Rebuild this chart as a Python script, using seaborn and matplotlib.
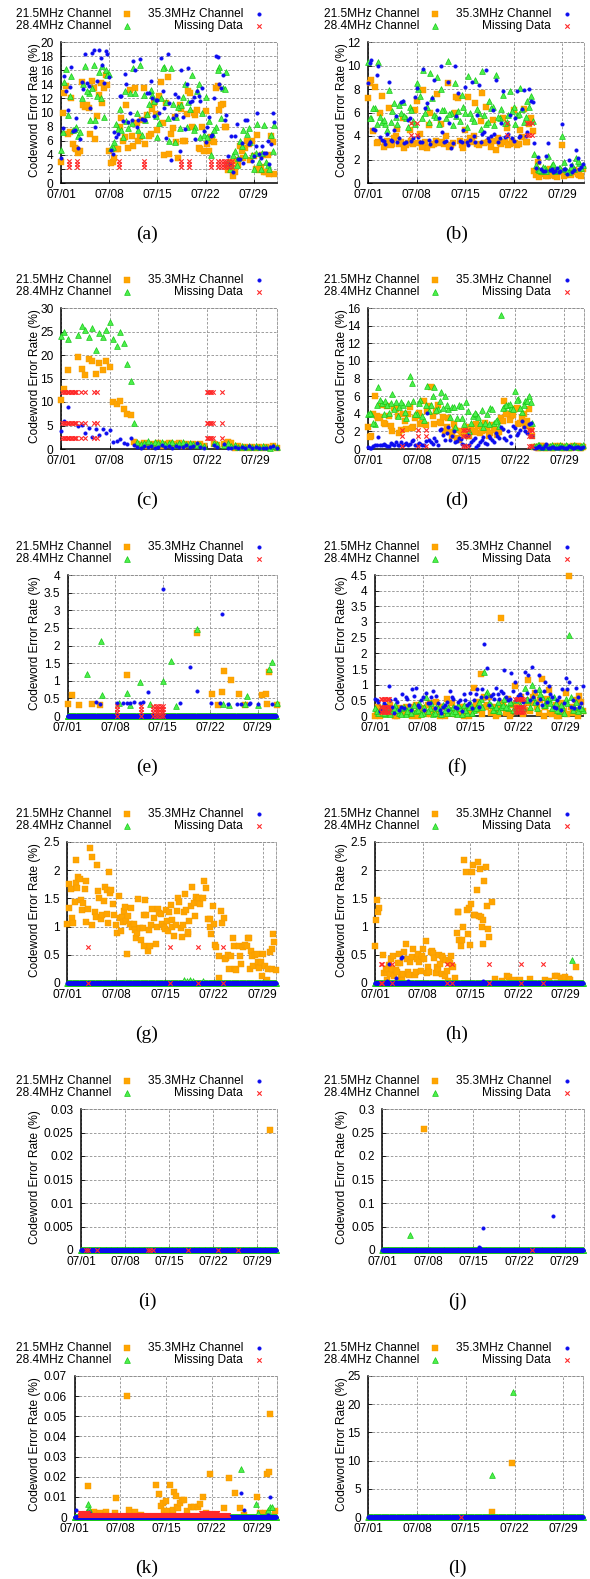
"""Codeword error rate per upstream channel, twelve nodes, July."""

import matplotlib

matplotlib.use("Agg")

import matplotlib.pyplot as plt
import numpy as np
import pandas as pd
import seaborn as sns

NAN = float("nan")

FIG_W_PX = 590
FIG_H_PX = 1579
AXES_H_PX = 141
SAMPLE_STEP = 0.05  # days between polls for drawn zero lines / missing spans

LEGEND_LABELS = {
    "c215": "21.5MHz Channel",
    "c353": "35.3MHz Channel",
    "c284": "28.4MHz Channel",
    "miss": "Missing Data",
}
Y_LABEL = "Codeword Error Rate (%)"
DAY_TICKS = [0, 7, 14, 21, 28]
DAY_TICK_LABELS = ["07/01", "07/08", "07/15", "07/22", "07/29"]

PANEL_TAGS = ["a", "b", "c", "d", "e", "f", "g", "h", "i", "j", "k", "l"]
Y_MAX = [20, 12, 30, 16, 4, 4.5, 2.5, 2.5, 0.03, 0.3, 0.07, 25]
Y_STEP = [2, 2, 5, 2, 0.5, 0.5, 0.5, 0.5, 0.005, 0.05, 0.01, 5]
X_MAX = [31.3, 31.1, 31.0, 30.8, 30.8, 30.6, 30.0, 30.6, 31.1, 30.9, 30.9, 30.9]
ZERO_LINE_PANELS = ["e", "g", "h", "i", "j", "k", "l"]

# ---- samples at 00:00 / 12:00 (lists without suffix) and 06:00 / 18:00 (_Q lists) ----
A_215 = [3.0, 12.8, 7.0, 12.0, 5.0, 4.3, 14.3, 10.8, 10.7, 14.5,
         6.3, 12.5, 11.3, 15.3, 4.6, 3.0, 4.8, 8.0, 5.9, 11.0,
         13.2, 5.2, 8.5, 6.5, 13.5, 9.6, 7.0, 11.3, 7.5, 14.3,
         4.0, 15.0, 7.0, 9.3, 3.5, 10.5, 6.0, 13.0, 8.0, 9.6,
         5.0, 7.9, 10.2, 4.5, 5.9, 13.5, 10.3, 11.2, 7.9, 2.0,
         1.0, 3.3, 5.3, 3.5, 6.0, 3.3, 3.8, 6.8, 2.2, 1.5,
         4.0, 6.7, 1.3]
A_215_Q = [10.0, 13.8, 7.2, 5.5, 4.8, 4.6, 11.0, 11.0, 6.9, 13.5,
           9.5, 14.2, 13.5, 13.9, 2.9, 3.5, 4.8, 9.2, 6.5, 5.0,
           6.7, 13.5, 5.9, 9.0, 5.5, 6.7, 10.5, 9.8, 12.3, 8.5,
           11.3, 4.1, 7.8, 5.8, 11.0, 5.9, 9.8, 12.7, 10.0, 10.3,
           4.8, 4.5, 5.5, 6.5, 5.8, 13.8, 11.0, 8.0, 1.8, 3.0,
           1.5, 2.5, 4.5, 5.0, 5.5, 6.0, 2.0, 1.8, 4.0, 1.5,
           1.3, 5.8]
A_353 = [3.5, 15.2, 10.4, 16.4, 7.5, 5.0, 14.3, 18.3, 13.7, 18.5,
         7.9, 18.9, 16.8, 18.7, 15.0, 4.1, 6.5, 12.3, 8.8, 14.0,
         10.0, 17.3, 8.0, 17.6, 9.0, 12.8, 14.4, 9.5, 11.8, 17.7,
         10.7, 18.3, 3.3, 12.6, 12.2, 16.0, 7.7, 16.3, 11.7, 6.3,
         12.3, 13.5, 5.8, 9.3, 6.8, 18.0, 14.0, 15.3, 9.7, 2.7,
         1.6, 8.4, 3.4, 2.9, 8.9, 5.8, 3.9, 10.0, 3.5, 4.3,
         6.0, 5.6, 8.6]
A_353_Q = [7.8, 13.0, 13.6, 7.4, 9.2, 6.2, 13.3, 14.2, 10.7, 18.9,
           14.5, 17.8, 14.2, 18.3, 4.7, 7.3, 7.0, 12.4, 15.4, 8.7,
           9.0, 16.0, 9.0, 9.1, 9.0, 12.8, 12.0, 11.8, 10.0, 13.0,
           6.4, 11.3, 9.2, 9.7, 4.5, 9.3, 14.1, 11.5, 12.2, 13.0,
           11.7, 7.4, 8.0, 6.6, 12.0, 17.9, 13.5, 9.0, 3.9, 6.7,
           6.7, 3.4, 5.7, 9.0, 5.5, 3.1, 5.2, 4.1, 5.2, 4.3,
           2.7, 9.9]
A_284 = [4.7, 14.3, 9.7, 15.2, 7.6, 6.7, 12.0, 16.6, 12.8, 13.5,
         9.0, 15.8, 16.6, 16.0, 15.5, 5.1, 8.3, 10.5, 6.5, 8.8,
         12.8, 16.3, 10.0, 16.7, 12.5, 9.8, 13.2, 11.6, 6.5, 12.0,
         16.5, 9.2, 16.3, 5.8, 10.8, 11.0, 14.0, 11.5, 15.3, 8.0,
         14.0, 10.0, 12.2, 8.8, 7.0, 8.0, 16.5, 13.5, 15.8, 2.0,
         4.0, 2.5, 6.0, 7.5, 7.0, 5.8, 2.0, 8.3, 2.0, 8.2,
         2.6, 6.8, 8.2]
A_284_Q = [7.2, 16.2, 12.3, 7.5, 8.0, 7.3, 14.0, 13.0, 9.0, 16.8,
           12.3, 12.0, 9.4, 15.3, 5.0, 5.8, 7.7, 7.5, 13.0, 7.8,
           8.5, 12.8, 7.5, 6.8, 9.0, 11.2, 12.5, 9.5, 8.5, 16.3,
           11.5, 6.0, 11.2, 9.3, 7.8, 12.2, 8.0, 10.5, 7.5, 13.0,
           6.5, 6.8, 6.5, 4.0, 7.5, 16.0, 9.2, 13.3, 3.0, 2.5,
           4.5, 3.5, 5.3, 4.0, 7.8, 4.0, 4.2, 3.0, 4.3, 3.0,
           2.0, 4.5]
A_MISS_DAYS = [1.15, 2.35, 8.45, 12.05, 17.4, 18.6, 21.75, 22.85, 23.2, 23.65, 24.0, 24.4, 24.85]
A_MISS_LEVELS = [2.2, 2.65, 3.1]

B_215 = [7.2, 8.8, 8.2, 3.5, 7.4, 3.2, 6.4, 3.3, 4.0, 3.3,
         5.5, 3.2, 4.5, 3.3, 7.0, 4.2, 7.9, 3.0, 6.0, 3.3,
         7.6, 5.0, 3.3, 8.5, 3.2, 6.0, 7.2, 3.2, 4.5, 7.3,
         3.5, 6.8, 3.2, 7.7, 6.5, 3.5, 5.4, 2.8, 3.4, 5.5,
         4.7, 3.3, 6.2, 3.2, 4.5, 6.3, 3.5, 5.5, 1.0, 1.8,
         0.8, 1.1, 0.6, 1.0, 0.6, 0.9, 3.2, 0.7, 0.8, 0.9,
         1.0, 0.7, 1.2]
B_215_Q = [8.5, 4.4, 3.4, 6.0, 3.1, 3.6, 3.2, 3.8, 4.6, 3.5,
           3.0, 3.4, 3.6, 6.2, 3.4, 3.1, 3.5, 4.9, 3.2, 3.6,
           3.4, 3.5, 4.0, 3.1, 3.4, 7.3, 3.6, 3.0, 3.5, 3.8,
           4.0, 3.3, 5.3, 3.4, 3.5, 3.1, 3.6, 3.8, 3.3, 3.5,
           3.2, 3.6, 3.4, 3.3, 3.9, 3.5, 5.0, 4.4, 0.7, 0.5,
           0.9, 0.6, 1.2, 0.7, 0.5, 1.0, 0.6, 0.8, 0.7, 1.1,
           0.8, 0.6]
B_353 = [8.5, 10.5, 4.5, 10.0, 3.7, 3.3, 8.6, 3.6, 5.7, 3.8,
         7.0, 3.5, 5.5, 3.8, 8.1, 3.5, 9.7, 6.8, 3.3, 8.8,
         6.2, 10.0, 3.5, 8.6, 3.0, 10.0, 7.7, 3.5, 8.2, 3.2,
         8.6, 3.5, 8.3, 4.2, 9.6, 3.6, 6.2, 8.8, 3.8, 7.8,
         4.0, 5.8, 3.6, 7.8, 4.0, 7.9, 4.3, 7.0, 3.4, 2.2,
         1.2, 1.0, 3.4, 1.2, 1.0, 0.9, 5.0, 1.2, 2.0, 0.9,
         2.8, 1.2, 1.6]
B_353_Q = [10.2, 4.6, 9.2, 3.9, 3.6, 4.2, 3.7, 4.5, 3.5, 6.9,
           3.4, 5.4, 3.6, 7.3, 3.9, 3.5, 6.4, 3.7, 7.2, 3.6,
           5.5, 4.3, 3.6, 5.1, 3.4, 5.7, 3.6, 4.5, 3.5, 3.7,
           4.0, 5.8, 3.5, 4.3, 3.8, 4.0, 4.2, 3.5, 5.1, 3.9,
           4.2, 3.8, 5.5, 3.9, 6.3, 4.0, 8.0, 6.9, 1.3, 1.8,
           1.0, 2.3, 1.1, 0.9, 1.3, 1.0, 1.2, 0.8, 1.5, 1.1,
           2.1, 1.4]
B_284 = [10.3, 5.5, 6.4, 10.3, 5.2, 5.0, 7.9, 6.1, 5.6, 6.6,
         6.9, 5.5, 6.5, 5.3, 8.5, 7.4, 9.6, 6.5, 9.4, 5.8,
         9.0, 8.0, 6.2, 10.4, 6.0, 8.5, 6.1, 7.5, 6.0, 9.1,
         5.5, 8.8, 6.0, 9.5, 5.0, 7.0, 6.5, 9.2, 5.5, 7.5,
         5.2, 7.8, 6.5, 5.8, 8.1, 5.2, 7.0, 7.4, 2.5, 1.2,
         1.0, 1.3, 2.3, 1.5, 1.0, 1.3, 4.0, 1.2, 0.9, 1.5,
         2.1, 1.7, 1.5]
B_284_Q = [5.5, 6.4, 5.0, 5.6, 5.4, 4.5, 5.2, 6.8, 5.0, 6.0,
           5.7, 4.8, 6.2, 5.0, 8.0, 5.5, 6.0, 5.2, 7.2, 5.6,
           5.0, 6.2, 5.5, 5.9, 4.9, 5.7, 5.3, 6.5, 4.8, 6.0,
           5.3, 6.3, 4.6, 5.8, 5.2, 6.4, 4.9, 5.6, 6.3, 5.1,
           5.8, 6.1, 5.0, 5.9, 6.3, 5.6, 6.5, 5.3, 1.5, 1.1,
           1.4, 1.0, 1.2, 1.6, 1.1, 1.3, 1.8, 1.0, 1.4, 1.2,
           1.9, 1.3]
B_MISS_DAYS = [6.2, 7.05, 20.05, 23.0, 23.3, 23.6]
B_MISS_LEVELS = [4.1, 5.1]

C_215 = [10.5, 12.8, 16.9, NAN, NAN, 19.5, 17.0, 15.8, 19.2, 18.7,
         15.9, 18.3, 16.8, 18.8, 17.5, 10.0, 9.5, 10.2, 8.5, 7.5,
         7.2, 1.5, 1.0, 0.8, 1.2, 0.6, 1.0, 0.8, 1.2, 0.7,
         1.0, 1.3, 0.8, 1.0, 1.2, 0.7, 1.0, 0.9, 1.1, 0.8,
         1.0, 0.6, NAN, NAN, 1.0, 0.8, NAN, 1.0, 1.5, 1.2,
         0.3, 0.6, 0.2, 0.5, 0.3, 0.4, 0.2, 0.5, 0.3, 0.4,
         0.2, 0.6, 0.3]
C_353 = [3.8, 6.0, 9.0, NAN, NAN, 4.8, 5.2, 3.5, 4.5, 2.5,
         4.2, 3.0, 4.3, 3.5, 4.0, 1.5, 1.8, 2.2, 1.3, 1.0,
         2.4, 0.8, 0.5, 0.3, 0.7, 0.4, 0.6, 0.3, 0.5, 0.8,
         0.4, 0.6, 0.3, 0.7, 0.5, 0.4, 0.8, 0.5, 0.6, 1.3,
         0.4, 0.3, NAN, NAN, 0.8, 0.4, NAN, 1.0, 0.3, 0.2,
         0.5, 0.2, 0.4, 0.3, 0.6, 0.2, 0.4, 0.2, 0.3, 0.2,
         0.5, 0.6, 0.3]
C_284 = [24.0, 25.0, 23.5, NAN, NAN, 24.3, 26.2, 25.3, 23.8, 25.7,
         21.1, 24.6, 23.8, 25.3, 27.0, 23.5, 22.0, 24.8, 22.5, 18.0,
         14.5, 5.5, 1.5, 1.0, 1.3, 1.6, 1.0, 1.4, 1.2, 1.5,
         1.0, 1.3, 1.4, 0.9, 1.2, 1.5, 1.0, 1.3, 1.0, 0.8,
         0.9, 0.7, NAN, NAN, 1.3, 1.0, NAN, 0.8, 1.2, 0.6,
         0.8, 0.5, 0.7, 0.4, 0.6, 0.5, 0.7, 0.4, 0.6, 0.5,
         0.3, 0.6, 0.4]
C_MISS_DAYS = [0.2, 0.4, 0.6, 0.8, 1.0, 1.2, 1.4, 1.6, 1.8, 2.0, 2.2, 2.9, 3.5, 4.7, 5.2,
               21.0, 21.2, 21.4, 21.6, 21.8, 23.1]
C_MISS_LEVELS = [2.3, 5.6, 12.2]

D_215 = [2.5, 1.5, 6.0, 3.5, 5.0, 2.8, 3.7, 2.0, 4.5, 1.8,
         4.0, 2.3, 4.8, 2.5, 3.7, 2.8, 5.5, 4.3, 7.0, 2.8,
         5.0, 3.0, 2.0, 3.5, 1.5, 2.2, 1.0, 1.8, 2.5, 1.5,
         2.0, 2.8, 1.8, 2.5, 2.2, 1.8, 2.5, 1.6, 3.5, 5.5,
         4.0, 3.7, 4.5, 2.8, 3.5, 2.6, 4.5, 1.5, 0.2, 0.1,
         0.3, 0.1, 0.2, 0.1, 0.2, 0.3, 0.1, 0.2, 0.1, 0.2,
         0.3, 0.1, 0.3]
D_215_Q = [1.4, 4.0, 3.8, 3.6, 2.9, 4.9, 2.6, 4.6, 3.8, 2.2,
           3.2, 4.0, 2.4, 3.5, 4.1, 3.0, 2.7, 4.9, 3.7, 4.3,
           3.1, 3.6, 2.5, 1.9, 2.8, 1.2, 2.0, 1.7, 1.5, 2.3,
           1.9, 2.6, 2.0, 3.0, 1.5, 2.7, 2.2, 1.9, 3.2, 4.0,
           3.3, 3.9, 4.6, 3.0, 4.0, 3.2, 2.4, 0.2, 0.1, 0.3,
           0.1, 0.2, 0.1, 0.3, 0.2, 0.1, 0.2, 0.1, 0.3, 0.2,
           0.1, 0.2]
D_353 = [0.2, 0.1, 0.5, 1.4, 0.4, 0.5, 0.3, 0.6, 0.8, 0.5,
         0.4, 0.7, 0.6, 1.0, 0.5, 0.6, 0.4, 4.1, 0.8, 1.2,
         0.5, 2.3, 1.0, 2.5, 1.5, 0.8, 1.2, 0.6, 1.5, 0.5,
         1.0, 0.2, 0.8, 1.4, 0.6, 1.2, 0.8, 1.5, 2.5, 1.3,
         2.0, 0.7, 2.4, 1.8, 3.2, 2.0, 2.8, 1.5, 0.1, 0.3,
         0.1, 0.6, 0.1, 0.2, 0.1, 0.2, 0.1, 0.1, 0.2, 0.1,
         0.2, 0.1, 0.4]
D_353_Q = [0.1, 0.3, 0.5, 0.4, 0.6, 0.3, 0.7, 0.5, 0.4, 0.8,
           0.6, 0.5, 0.9, 0.4, 0.7, 0.5, 0.9, 1.0, 0.6, 0.9,
           2.2, 1.6, 1.8, 1.0, 2.0, 0.9, 1.1, 0.4, 1.6, 0.8,
           1.3, 0.5, 1.0, 0.7, 1.5, 1.0, 1.8, 1.2, 2.3, 1.0,
           1.5, 2.6, 1.6, 2.2, 2.5, 1.8, 3.0, 0.1, 0.2, 0.1,
           0.3, 0.1, 0.2, 0.1, 0.1, 0.2, 0.1, 0.3, 0.1, 0.2,
           0.1, 0.2]
D_284 = [4.0, 4.0, 2.8, 7.0, 5.2, 5.5, 4.1, 6.2, 5.3, 4.8,
         5.0, 3.5, 8.3, 5.5, 4.0, 5.6, 3.3, 7.1, 5.0, 7.0,
         4.5, 6.5, 6.0, 4.5, 4.8, 2.5, 5.0, 3.5, 5.3, 2.0,
         3.8, 4.0, 3.0, 2.5, 4.0, 4.7, 3.0, 3.3, 15.2, 4.8,
         5.0, 4.7, 6.6, 5.7, 4.2, 5.5, 6.0, 3.0, 0.3, 0.4,
         0.2, 0.3, 0.3, 0.2, 0.3, 0.4, 0.2, 0.3, 0.3, 0.4,
         0.2, 0.3, 0.5]
D_284_Q = [4.1, 3.0, 5.0, 5.6, 4.0, 5.0, 5.2, 4.5, 3.8, 5.3,
           4.2, 5.2, 7.5, 4.0, 5.2, 3.8, 5.0, 4.3, 6.0, 4.4,
           5.5, 4.6, 5.0, 3.6, 4.8, 3.5, 4.9, 2.8, 4.3, 3.0,
           4.1, 3.6, 4.4, 3.0, 2.8, 4.5, 3.2, 2.6, 4.6, 5.0,
           5.1, 4.5, 5.6, 4.7, 5.0, 5.4, 5.3, 0.3, 0.4, 0.2,
           0.3, 0.2, 0.4, 0.3, 0.2, 0.3, 0.4, 0.2, 0.3, 0.3,
           0.2, 0.4]
D_MISS_DAYS = [4.8, 7.2, 8.3, 13.6, 13.9, 14.3, 23.0, 23.3, 23.5]
D_MISS_LEVELS = [0.3, 1.45, 2.2]

F_215 = [0.0, 0.3, 0.1, 0.15, 0.05, 0.2, 0.0, 0.25, 0.05, 0.3,
         0.15, 0.0, 0.35, 0.1, 0.2, 0.05, 0.4, 0.15, 0.45, 0.0,
         0.3, 0.55, 0.1, 0.2, 0.05, 0.3, 0.0, 0.25, 0.1, 0.9,
         0.45, 1.35, 0.6, 0.35, 0.1, 0.3, 0.05, 3.12, 0.25, 0.55,
         0.1, 0.95, 0.3, 0.6, 0.2, 1.15, 0.4, 0.75, 0.1, 1.18,
         0.3, 0.82, 0.05, 0.35, 0.0, 0.2, 0.75, 4.48, 0.1, 0.5,
         0.65, 0.15, 0.3]
F_215_Q = [0.1, 0.0, 0.2, 0.05, 0.35, 0.1, 0.0, 0.15, 0.2, 0.05,
           0.3, 0.1, 0.0, 0.25, 0.15, 0.35, 0.05, 0.2, 0.1, 0.3,
           0.0, 0.15, 0.4, 0.05, 0.2, 0.1, 0.3, 0.0, 0.15, 0.35,
           0.2, 0.05, 0.3, 0.6, 0.15, 0.0, 0.25, 0.4, 0.1, 0.0,
           0.35, 0.2, 0.5, 0.05, 0.4, 0.15, 0.6, 0.3, 0.5, 0.0,
           0.55, 0.1, 0.3, 0.0, 0.4, 0.15, 0.05, 0.3, 0.2, 0.0,
           0.45, 0.1]
F_353 = [0.55, 0.45, 0.2, 0.35, 0.95, 0.3, 0.55, 0.2, 0.7, 0.6,
         0.35, 0.85, 0.9, 0.3, 0.6, 0.75, 0.4, 0.8, 0.65, 0.2,
         0.3, 0.45, 0.8, 0.55, 0.25, 0.5, 0.7, 0.35, 0.75, 0.5,
         0.85, 0.6, 2.3, 1.52, 0.65, 0.55, 0.7, 0.8, 1.47, 0.5,
         1.38, 1.1, 0.65, 0.6, 1.4, 1.3, 1.55, 0.8, 1.3, 0.35,
         1.1, 0.95, 0.6, 0.25, 0.6, 0.85, 1.2, 1.1, 0.5, 0.9,
         0.3, 0.95, 0.5]
F_353_Q = [0.5, 0.15, 0.4, 0.3, 0.5, 0.1, 0.45, 0.3, 0.25, 0.55,
           0.2, 0.65, 0.35, 0.5, 0.2, 0.4, 0.6, 0.25, 0.4, 0.1,
           0.35, 0.2, 0.6, 0.3, 0.45, 0.15, 0.5, 0.4, 0.25, 0.7,
           0.3, 0.85, 0.6, 0.35, 0.7, 0.9, 0.55, 0.75, 0.6, 0.55,
           0.8, 0.5, 0.7, 0.45, 0.75, 0.5, 0.6, 0.4, 0.55, 0.8,
           0.45, 0.7, 0.3, 0.5, 0.2, 0.4, 0.85, 0.3, 0.25, 0.6,
           0.4, 0.2]
F_284 = [0.25, 0.1, 0.3, 0.05, 0.2, 0.15, 0.35, 0.1, 0.25, 0.05,
         0.3, 0.2, 0.15, 0.4, 0.1, 0.62, 0.25, 0.05, 0.3, 0.15,
         0.35, 0.1, 0.2, 0.3, 0.05, 0.25, 0.35, 0.1, 0.4, 0.2,
         0.3, 0.55, 1.42, 0.78, 0.35, 0.2, 0.45, 0.3, 0.55, 0.25,
         0.4, 0.15, 0.6, 0.3, 0.9, 0.5, 1.0, 0.45, 0.85, 0.6,
         0.35, 0.55, 0.25, 0.4, 0.15, 0.3, 0.55, 2.58, 0.2, 0.45,
         0.3, 0.2, 0.35]
F_284_Q = [0.15, 0.2, 0.1, 0.3, 0.05, 0.25, 0.2, 0.05, 0.3, 0.15,
           0.1, 0.35, 0.2, 0.05, 0.3, 0.15, 0.4, 0.1, 0.25, 0.05,
           0.2, 0.3, 0.1, 0.15, 0.35, 0.05, 0.2, 0.3, 0.1, 0.25,
           0.45, 0.3, 0.7, 0.4, 0.2, 0.3, 0.15, 0.35, 0.3, 0.45,
           0.2, 0.5, 0.35, 0.25, 0.55, 0.3, 0.6, 0.25, 0.7, 0.35,
           0.5, 0.4, 0.6, 0.2, 0.35, 0.1, 0.4, 0.6, 0.3, 0.15,
           0.25, 0.4]
F_MISS_DAYS = [0.9, 1.1, 1.3, 1.5, 1.7, 1.9, 2.1, 20.6, 20.8, 21.0, 21.2, 21.4, 21.6, 21.8]
F_MISS_LEVELS = [0.13, 0.29, 0.53]

# ---- irregular (day, rate) readings ----
E_215 = [(0.0, 0.33), (0.7, 0.6), (1.7, 0.3), (3.6, 0.33), (4.7, 0.3), (8.8, 1.17), (19.0, 2.35),
         (21.3, 0.63), (22.2, 0.3), (22.7, 0.68), (23.0, 1.27), (24.1, 1.02), (25.2, 0.63), (26.1, 0.3),
         (28.6, 0.6), (29.2, 0.62), (29.4, 0.33), (29.7, 1.25), (30.8, 0.3)]
E_284 = [(2.9, 1.2), (4.9, 2.12), (5.0, 0.6), (7.5, 0.38), (8.7, 0.65), (9.2, 0.32), (10.7, 0.97),
         (12.1, 0.33), (14.1, 1.0), (15.3, 1.57), (16.0, 0.28), (19.0, 2.47), (22.9, 0.35), (23.8, 0.32),
         (26.1, 0.35), (26.5, 0.58), (28.1, 0.32), (29.7, 1.32), (30.1, 1.53), (30.8, 0.36)]
E_353 = [(4.2, 0.4), (4.7, 0.35), (7.2, 0.38), (8.2, 0.38), (8.7, 0.36), (9.2, 0.37), (9.8, 0.4),
         (10.6, 0.38), (11.1, 0.4), (11.8, 0.68), (14.1, 3.6), (16.6, 0.36), (18.1, 1.4), (19.0, 0.72),
         (21.1, 0.38), (22.4, 0.37), (22.7, 2.9), (23.6, 0.35), (25.0, 0.35), (25.6, 0.34), (26.7, 0.35),
         (26.9, 0.37), (28.1, 0.35), (30.1, 0.35)]
E_MISS_DAYS = [7.3, 10.8, 12.6, 13.0, 13.3, 13.7, 14.1]
E_MISS_LEVELS = [0.0, 0.1, 0.2, 0.28]

G_215 = [(0.0, 1.05), (0.2, 1.33), (0.25, 1.75), (0.5, 1.67), (0.7, 1.15), (0.8, 1.07), (1.05, 1.44),
         (1.2, 2.18), (1.3, 1.78), (1.4, 1.68), (1.6, 1.88), (1.8, 1.85), (1.9, 1.47), (2.05, 1.3),
         (2.2, 1.42), (2.5, 1.67), (2.65, 1.81), (2.75, 1.08), (3.0, 1.32), (3.25, 2.39), (3.5, 2.23),
         (3.6, 1.03), (3.95, 1.26), (4.1, 1.17), (4.2, 2.09), (4.45, 1.64), (4.6, 1.5), (4.8, 1.13),
         (4.95, 1.2), (5.25, 1.46), (5.4, 1.7), (5.65, 1.65), (5.75, 1.22), (5.9, 1.06), (6.0, 1.97),
         (6.15, 1.6), (6.3, 1.65), (6.6, 1.4), (6.7, 1.2), (6.95, 1.03), (7.1, 0.88), (7.35, 1.54),
         (7.5, 1.15), (7.7, 0.92), (7.85, 1.17), (8.05, 1.09), (8.2, 1.27), (8.3, 1.35), (8.45, 1.1),
         (8.55, 0.52), (8.7, 1.18), (8.95, 1.05), (9.15, 1.33), (9.3, 1.0), (9.5, 1.04), (9.65, 0.94),
         (9.8, 0.8), (10.0, 0.88), (10.15, 1.49), (10.4, 0.98), (10.5, 0.77), (10.85, 0.97), (10.95, 0.65),
         (11.05, 1.2), (11.2, 1.47), (11.35, 1.2), (11.55, 0.56), (11.7, 0.94), (11.85, 0.65), (12.05, 1.03),
         (12.15, 1.31), (12.4, 1.15), (12.65, 0.69), (12.9, 1.0), (13.0, 1.32), (13.15, 1.24), (13.4, 1.22),
         (13.6, 1.04), (13.85, 1.0), (14.0, 0.95), (14.1, 1.3), (14.25, 1.1), (14.45, 0.93), (14.6, 1.25),
         (14.85, 1.39), (14.95, 1.12), (15.05, 1.0), (15.3, 0.84), (15.55, 1.03), (15.7, 1.27), (15.9, 1.5),
         (16.05, 1.43), (16.3, 0.98), (16.4, 0.82), (16.6, 1.03), (16.75, 1.25), (16.9, 1.58), (17.0, 1.3),
         (17.25, 0.86), (17.35, 0.9), (17.5, 1.1), (17.75, 1.37), (17.85, 1.7), (18.1, 1.42), (18.3, 1.19),
         (18.45, 1.52), (18.7, 1.45), (18.95, 1.5), (19.1, 1.4), (19.4, 1.5), (19.65, 1.81), (19.9, 1.69),
         (20.15, 1.14), (20.4, 1.14), (20.5, 1.0), (20.6, 0.86), (20.85, 1.37), (21.0, 1.05), (21.2, 0.67),
         (21.35, 0.63), (21.7, 0.08), (21.8, 0.47), (22.1, 1.27), (22.25, 1.07), (22.4, 1.15), (22.6, 0.42),
         (22.8, 0.45), (23.05, 0.5), (23.2, 0.24), (23.45, 0.48), (23.7, 0.79), (23.85, 0.65), (24.0, 0.24),
         (24.25, 0.23), (24.6, 0.65), (24.75, 0.48), (24.95, 0.33), (25.2, 0.64), (25.45, 0.68), (25.7, 0.65),
         (25.85, 0.79), (26.05, 0.79), (26.2, 0.24), (26.3, 0.57), (26.5, 0.47), (26.65, 0.3), (26.9, 0.5),
         (27.15, 0.52), (27.4, 0.38), (27.5, 0.26), (27.8, 0.38), (27.9, 0.13), (28.1, 0.51), (28.35, 0.3),
         (28.6, 0.06), (28.85, 0.25), (29.1, 0.55), (29.3, 0.24), (29.4, 0.6), (29.55, 0.86), (29.7, 0.73),
         (29.9, 0.23)]
G_284 = [(16.8, 0.05), (17.2, 0.04), (17.6, 0.05), (18.0, 0.03), (19.5, 0.03)]
G_MISS_DAYS = [2.9, 14.7, 18.8, 22.3]
G_MISS_LEVELS = [0.0, 0.64]

H_215 = [(0.0, 0.66), (0.15, 1.12), (0.25, 1.47), (0.4, 1.25), (0.6, 1.33), (1.2, 0.49), (1.35, 0.17),
         (1.55, 0.25), (1.7, 0.05), (1.8, 0.17), (1.95, 0.25), (2.1, 0.32), (2.2, 0.16), (2.35, 0.43),
         (2.45, 0.25), (2.7, 0.48), (2.85, 0.13), (3.05, 0.23), (3.2, 0.2), (3.35, 0.36), (3.5, 0.52),
         (3.65, 0.35), (3.8, 0.08), (3.9, 0.05), (4.15, 0.16), (4.3, 0.55), (4.5, 0.69), (4.65, 0.42),
         (4.8, 0.19), (5.0, 0.14), (5.15, 0.38), (5.4, 0.46), (5.65, 0.6), (5.8, 0.14), (5.95, 0.2),
         (6.1, 0.42), (6.35, 0.52), (6.5, 0.37), (6.75, 0.22), (6.85, 0.48), (7.1, 0.6), (7.25, 0.42),
         (7.45, 0.74), (7.6, 0.17), (7.75, 0.28), (7.95, 0.2), (8.2, 0.55), (8.4, 0.56), (8.55, 0.53),
         (8.7, 0.44), (8.9, 0.17), (9.05, 0.29), (9.2, 0.25), (9.4, 0.5), (9.55, 0.34), (9.8, 0.48),
         (9.9, 0.16), (10.05, 0.44), (10.2, 0.13), (10.4, 0.4), (10.5, 0.22), (10.65, 0.04), (10.85, 0.39),
         (11.0, 0.36), (11.15, 0.48), (11.25, 0.31), (11.5, 0.28), (11.75, 0.09), (12.0, 0.89), (12.15, 1.25),
         (12.25, 1.26), (12.4, 0.76), (12.6, 0.66), (12.75, 0.77), (12.9, 1.0), (13.1, 2.18), (13.3, 1.97),
         (13.45, 1.3), (13.6, 0.86), (13.8, 1.33), (13.95, 0.67), (14.1, 1.4), (14.2, 1.96), (14.45, 2.1),
         (14.6, 1.21), (14.7, 1.2), (14.95, 1.65), (15.1, 2.15), (15.25, 1.19), (15.4, 2.03), (15.55, 1.17),
         (15.65, 1.0), (15.8, 0.7), (15.9, 1.12), (16.05, 1.81), (16.25, 2.06), (16.4, 1.37), (16.55, 0.95),
         (16.75, 0.82), (17.15, 1.43), (17.6, 0.07), (18.7, 0.04), (19.35, 0.12), (19.6, 0.1), (20.1, 0.04),
         (20.45, 0.05), (21.3, 0.05), (22.75, 0.07), (24.95, 0.06), (25.55, 0.04), (26.45, 0.12), (26.7, 0.12),
         (27.3, 0.08), (27.65, 0.09), (27.9, 0.1), (28.4, 0.07), (28.65, 0.05), (29.5, 0.28)]
H_353 = [(1.7, 0.04), (2.05, 0.33), (3.05, 0.08), (3.8, 0.44), (3.9, 0.46), (4.8, 0.03), (15.8, 0.03)]
H_284 = [(28.9, 0.4)]
H_MISS_DAYS = [0.9, 1.1, 2.55, 10.5, 11.25, 16.8, 21.5, 24.6]
H_MISS_LEVELS = [0.0, 0.33]

I_215 = [(30.0, 0.0255)]
I_MISS_DAYS = [0.8, 1.15, 2.6, 10.65, 11.05, 11.45, 17.05, 21.85, 25.0]
I_MISS_LEVELS = [0.0]

J_215 = [(6.4, 0.257)]
J_284 = [(4.25, 0.032)]
J_353 = [(14.8, 0.007), (15.0, 0.004), (15.5, 0.047), (26.2, 0.072)]
J_MISS_DAYS = [23.0]
J_MISS_LEVELS = [0.0]

K_215 = [(2.1, 0.0155), (3.0, 0.0025), (3.9, 0.002), (4.85, 0.0025), (6.1, 0.002), (6.25, 0.0095),
         (8.0, 0.06), (8.3, 0.0035), (8.45, 0.002), (9.3, 0.0025), (10.1, 0.001), (12.4, 0.016),
         (12.9, 0.0115), (13.2, 0.0057), (13.45, 0.0068), (13.7, 0.0028), (13.95, 0.0078), (14.1, 0.0028),
         (14.6, 0.016), (15.0, 0.0035), (15.25, 0.0125), (15.5, 0.0105), (15.65, 0.005), (15.85, 0.0045),
         (16.15, 0.0068), (16.5, 0.0082), (16.8, 0.0082), (17.2, 0.0032), (17.8, 0.0052), (18.3, 0.0052),
         (18.85, 0.005), (19.25, 0.0065), (19.6, 0.01), (20.1, 0.002), (20.65, 0.0215), (22.85, 0.0045),
         (23.7, 0.0195), (24.5, 0.012), (25.25, 0.0045), (26.0, 0.001), (27.85, 0.0097), (28.4, 0.002),
         (29.1, 0.002), (29.4, 0.0215), (29.75, 0.0225), (29.9, 0.051), (30.7, 0.003)]
K_284 = [(1.95, 0.003), (2.1, 0.0065), (2.25, 0.004), (25.5, 0.024), (27.7, 0.0065), (28.0, 0.002),
         (29.55, 0.0035), (29.9, 0.005), (30.15, 0.0052)]
K_353 = [(0.2, 0.0035), (2.25, 0.0025), (25.5, 0.0118), (26.0, 0.0035), (29.55, 0.0012), (29.9, 0.0098)]
K_MISS_SPANS = [(0.8, 23.5, 0.0008), (0.8, 2.1, 0.002), (19.4, 21.9, 0.002)]

L_215 = [(17.7, 0.9), (20.7, 9.5)]
L_284 = [(17.8, 7.4), (20.8, 22.1)]
L_MISS_DAYS = [13.25]
L_MISS_LEVELS = [0.0]

# ---- layout (pixels) ----
TOP_PX = [42, 308, 575, 842, 1109, 1376]
AXES_LEFT_PX = [61, 368, 61, 368, 67.7, 375, 67.3, 375, 81, 382.3, 74.7, 368.3]
AXES_RIGHT_PX = [276.5, 583.5]
COLUMN_SHIFT_PX = 308
LEGEND_TEXT_X = [111, 243]
LEGEND_MARK_X = [127, 259]
LEGEND_ROW_DY = [-28, -16]
LEGEND_SLOTS = {"c215": (0, 0), "c353": (1, 0), "c284": (0, 1), "miss": (1, 1)}
YLABEL_X = [35, 342]
TAG_X = [147, 457]

STYLES = {
    "c215": {"marker": "s", "s": 13, "color": "#ffa500", "edgecolor": "#f29a00", "linewidth": 0.3, "zorder": 3},
    "c284": {"marker": "^", "s": 17, "color": "#4cf04c", "edgecolor": "#18c818", "linewidth": 0.5, "zorder": 4},
    "c353": {"marker": "o", "s": 7, "color": "#0c0cf0", "edgecolor": "#0c0cf0", "linewidth": 0.2, "zorder": 5},
    "miss": {"marker": "x", "s": 10, "color": "#ff2a2a", "linewidth": 0.8, "zorder": 6},
}
GRID_COLOR = "#8e8e8e"

plt.rcParams["font.family"] = ["Liberation Sans", "DejaVu Sans"]


def half_day(values, offset=0.0):
    vals = np.asarray(values, dtype=float)
    return pd.DataFrame({"day": offset + np.arange(len(vals)) * 0.5, "rate": vals})


def two_polls(values, quarter_values):
    return pd.concat([half_day(values), half_day(quarter_values, offset=0.25)], ignore_index=True)


def pairs(points):
    return pd.DataFrame(points, columns=["day", "rate"])


def crossed(days, levels):
    return pd.DataFrame([(d, lv) for d in days for lv in levels], columns=["day", "rate"])


def spans(span_list):
    rows = [(d, lv) for start, end, lv in span_list for d in np.arange(start, end, SAMPLE_STEP)]
    return pd.DataFrame(rows, columns=["day", "rate"])


def zero_line(x_max):
    days = np.arange(0, x_max, SAMPLE_STEP)
    return pd.DataFrame({"day": days, "rate": np.zeros(len(days))})


def build_panels():
    return {
        "a": {"c215": two_polls(A_215, A_215_Q), "c353": two_polls(A_353, A_353_Q),
              "c284": two_polls(A_284, A_284_Q), "miss": crossed(A_MISS_DAYS, A_MISS_LEVELS)},
        "b": {"c215": two_polls(B_215, B_215_Q), "c353": two_polls(B_353, B_353_Q),
              "c284": two_polls(B_284, B_284_Q), "miss": crossed(B_MISS_DAYS, B_MISS_LEVELS)},
        "c": {"c215": half_day(C_215), "c353": half_day(C_353), "c284": half_day(C_284),
              "miss": crossed(C_MISS_DAYS, C_MISS_LEVELS)},
        "d": {"c215": two_polls(D_215, D_215_Q), "c353": two_polls(D_353, D_353_Q),
              "c284": two_polls(D_284, D_284_Q), "miss": crossed(D_MISS_DAYS, D_MISS_LEVELS)},
        "e": {"c215": pairs(E_215), "c353": pairs(E_353), "c284": pairs(E_284),
              "miss": crossed(E_MISS_DAYS, E_MISS_LEVELS)},
        "f": {"c215": two_polls(F_215, F_215_Q), "c353": two_polls(F_353, F_353_Q),
              "c284": two_polls(F_284, F_284_Q), "miss": crossed(F_MISS_DAYS, F_MISS_LEVELS)},
        "g": {"c215": pairs(G_215), "c284": pairs(G_284), "miss": crossed(G_MISS_DAYS, G_MISS_LEVELS)},
        "h": {"c215": pairs(H_215), "c353": pairs(H_353), "c284": pairs(H_284),
              "miss": crossed(H_MISS_DAYS, H_MISS_LEVELS)},
        "i": {"c215": pairs(I_215), "miss": crossed(I_MISS_DAYS, I_MISS_LEVELS)},
        "j": {"c215": pairs(J_215), "c353": pairs(J_353), "c284": pairs(J_284),
              "miss": crossed(J_MISS_DAYS, J_MISS_LEVELS)},
        "k": {"c215": pairs(K_215), "c353": pairs(K_353), "c284": pairs(K_284), "miss": spans(K_MISS_SPANS)},
        "l": {"c215": pairs(L_215), "c284": pairs(L_284), "miss": crossed(L_MISS_DAYS, L_MISS_LEVELS)},
    }


def draw_points(ax, frame, key, x_max):
    frame = frame.dropna()
    frame = frame[frame["day"] <= x_max + 0.02]
    if frame.empty:
        return
    sns.scatterplot(data=frame, x="day", y="rate", ax=ax, legend=False, clip_on=False, **STYLES[key])


def style_axes(ax, idx):
    ax.set_xlim(0, X_MAX[idx])
    ax.set_ylim(0, Y_MAX[idx])
    ax.set_xticks(DAY_TICKS, DAY_TICK_LABELS)
    y_ticks = np.arange(0, Y_MAX[idx] + Y_STEP[idx] / 2, Y_STEP[idx])
    ax.set_yticks(y_ticks, [f"{round(v, 6):g}" for v in y_ticks])
    ax.set_xlabel("")
    ax.set_ylabel("")
    ax.grid(True, color=GRID_COLOR, linestyle=(0, (3, 2)), linewidth=0.6)
    ax.set_axisbelow(True)
    for side in ("left", "bottom"):
        ax.spines[side].set_color("black")
        ax.spines[side].set_linewidth(1.1)
    for side in ("top", "right"):
        ax.spines[side].set_color(GRID_COLOR)
        ax.spines[side].set_linestyle((0, (3, 2)))
        ax.spines[side].set_linewidth(0.6)
    ax.tick_params(axis="both", direction="in", length=3, width=0.6, labelsize=8.6, colors="black")
    ax.tick_params(axis="y", pad=5.5)
    ax.tick_params(axis="x", pad=4.5)


def draw_legend(over, col, top):
    for key, (slot_col, slot_row) in LEGEND_SLOTS.items():
        y = top + LEGEND_ROW_DY[slot_row]
        shift = col * COLUMN_SHIFT_PX
        over.text(LEGEND_TEXT_X[slot_col] + shift, y, LEGEND_LABELS[key], ha="right", va="center", fontsize=8.6)
        over.scatter([LEGEND_MARK_X[slot_col] + shift], [y], clip_on=False, **STYLES[key])


def main():
    panels = build_panels()

    fig = plt.figure(figsize=(FIG_W_PX / 100, FIG_H_PX / 100), dpi=100)
    over = fig.add_axes([0, 0, 1, 1])
    over.set_xlim(0, FIG_W_PX)
    over.set_ylim(FIG_H_PX, 0)
    over.set_axis_off()

    for idx, tag in enumerate(PANEL_TAGS):
        row, col = divmod(idx, 2)
        top = TOP_PX[row]
        left = AXES_LEFT_PX[idx]
        right = AXES_RIGHT_PX[col]
        ax = fig.add_axes([
            left / FIG_W_PX,
            1 - (top + AXES_H_PX) / FIG_H_PX,
            (right - left) / FIG_W_PX,
            AXES_H_PX / FIG_H_PX,
        ])

        series = panels[tag]
        for key in ("c215", "c284", "c353", "miss"):
            if tag in ZERO_LINE_PANELS and key in ("c284", "c353"):
                draw_points(ax, zero_line(X_MAX[idx]), key, X_MAX[idx])
            if key in series:
                draw_points(ax, series[key], key, X_MAX[idx])

        style_axes(ax, idx)

        over.text(YLABEL_X[col], top + AXES_H_PX / 2 - 2, Y_LABEL, rotation=90,
                  ha="center", va="center", fontsize=8.6)
        over.text(TAG_X[col], top + 192, f"({tag})", ha="center", va="center",
                  fontsize=14, family=["Liberation Serif", "DejaVu Serif"])
        draw_legend(over, col, top)

    fig.savefig("out.png", dpi=100)


if __name__ == "__main__":
    main()
